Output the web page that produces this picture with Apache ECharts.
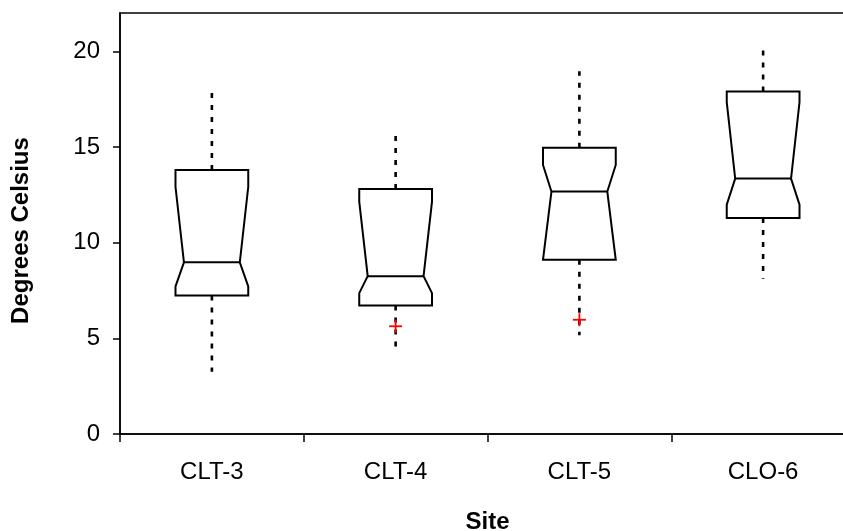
<!DOCTYPE html>
<html>
<head>
<meta charset="utf-8">
<script src="https://cdn.jsdelivr.net/npm/echarts@6/dist/echarts.min.js"></script>
<style>html,body{margin:0;padding:0;background:#fff;}#c{width:843px;height:531px;}</style>
</head>
<body>
<div id="c"></div>
<script>
// Data (degrees Celsius)
var sites = ['CLT-3', 'CLT-4', 'CLT-5', 'CLO-6'];
var whiskerLow  = [3.25, 4.41, 5.16, 8.11];
var q1          = [7.24, 6.72, 9.10, 11.29];
var notchLow    = [7.71, 7.36, 9.10, 11.98];
var median      = [8.97, 8.25, 12.67, 13.35];
var notchHigh   = [12.92, 12.14, 14.06, 17.34];
var q3          = [13.79, 12.80, 14.96, 17.90];
var whiskerHigh = [17.95, 15.65, 18.96, 20.05];
var outlierSite = [1, 2];
var outlierVal  = [5.63, 5.97];
var yTicks = [0, 5, 10, 15, 20];

var boxData = sites.map(function (s, i) {
  return [i, whiskerLow[i], q1[i], notchLow[i], median[i], notchHigh[i], q3[i], whiskerHigh[i]];
});
var outData = outlierSite.map(function (s, i) { return [s, outlierVal[i]]; });

var chart = echarts.init(document.getElementById('c'), null, {renderer: 'canvas'});
var FONT = '"Liberation Sans", Arial, sans-serif';

function renderBox(params, api) {
  var idx = api.value(0);
  var band = api.size([1, 0])[0];
  var h = band * 0.198, n = band * 0.152;
  var x = api.coord([idx, 0])[0];
  var y = function (d) { return api.coord([idx, api.value(d)])[1]; };
  var wLo = y(1), bq1 = y(2), nLo = y(3), med = y(4), nHi = y(5), bq3 = y(6), wHi = y(7);
  var boxStyle = {stroke: '#000', lineWidth: 2, fill: 'none'};
  var dashStyle = {stroke: '#000', lineWidth: 2.6, lineDash: [5, 7], fill: 'none'};
  return {
    type: 'group',
    children: [
      {type: 'line', shape: {x1: x, y1: bq3, x2: x, y2: wHi}, style: dashStyle},
      {type: 'line', shape: {x1: x, y1: bq1, x2: x, y2: wLo}, style: dashStyle},
      {type: 'polygon', shape: {points: [
        [x - h, bq3], [x + h, bq3], [x + h, nHi], [x + n, med], [x + h, nLo], [x + h, bq1],
        [x - h, bq1], [x - h, nLo], [x - n, med], [x - h, nHi]
      ]}, style: boxStyle},
      {type: 'line', shape: {x1: x - n, y1: med, x2: x + n, y2: med}, style: boxStyle}
    ]
  };
}

function renderPlus(params, api) {
  var p = api.coord([api.value(0), api.value(1)]);
  var s = 6.5;
  var st = {stroke: '#ff0000', lineWidth: 1.8};
  return {
    type: 'group',
    children: [
      {type: 'line', shape: {x1: p[0] - s, y1: p[1], x2: p[0] + s, y2: p[1]}, style: st},
      {type: 'line', shape: {x1: p[0], y1: p[1] - s, x2: p[0], y2: p[1] + s}, style: st}
    ]
  };
}

chart.setOption({
  animation: false,
  backgroundColor: '#fff',
  grid: {
    left: 120, top: 13, height: 421, width: 735,
    outerBoundsMode: 'none',
    containLabel: false,
    show: true, borderColor: '#000', borderWidth: 1.5, backgroundColor: 'transparent'
  },
  xAxis: {
    type: 'category',
    data: sites,
    boundaryGap: true,
    name: 'Site',
    nameLocation: 'middle',
    nameGap: 76,
    nameMoveOverlap: false,
    nameTextStyle: {fontFamily: FONT, fontWeight: 'bold', fontSize: 24, color: '#000'},
    axisLine: {lineStyle: {color: '#000', width: 1.5}},
    axisTick: {show: true, inside: false, length: 8, interval: 0, alignWithLabel: false, lineStyle: {color: '#000', width: 1.5}},
    axisLabel: {fontFamily: FONT, fontSize: 24, color: '#000', margin: 26, interval: 0},
    splitLine: {show: false}
  },
  yAxis: {
    type: 'value',
    min: 0, max: 22,
    name: 'Degrees Celsius',
    nameLocation: 'middle',
    nameGap: 87,
    nameRotate: 90,
    nameMoveOverlap: false,
    nameTextStyle: {fontFamily: FONT, fontWeight: 'bold', fontSize: 24, color: '#000', padding: [0, 14, 0, 0]},
    axisLine: {show: true, lineStyle: {color: '#000', width: 1.5}},
    axisTick: {show: true, inside: false, length: 7, customValues: yTicks, lineStyle: {color: '#000', width: 1.5}},
    axisLabel: {fontFamily: FONT, fontSize: 24, color: '#000', margin: 20, customValues: yTicks},
    splitLine: {show: false}
  },
  series: [
    {type: 'custom', renderItem: renderBox, data: boxData, encode: {x: 0, y: [1, 2, 3, 4, 5, 6, 7]}, clip: false},
    {type: 'custom', renderItem: renderPlus, data: outData, encode: {x: 0, y: 1}, clip: false}
  ]
});
</script>
</body>
</html>
